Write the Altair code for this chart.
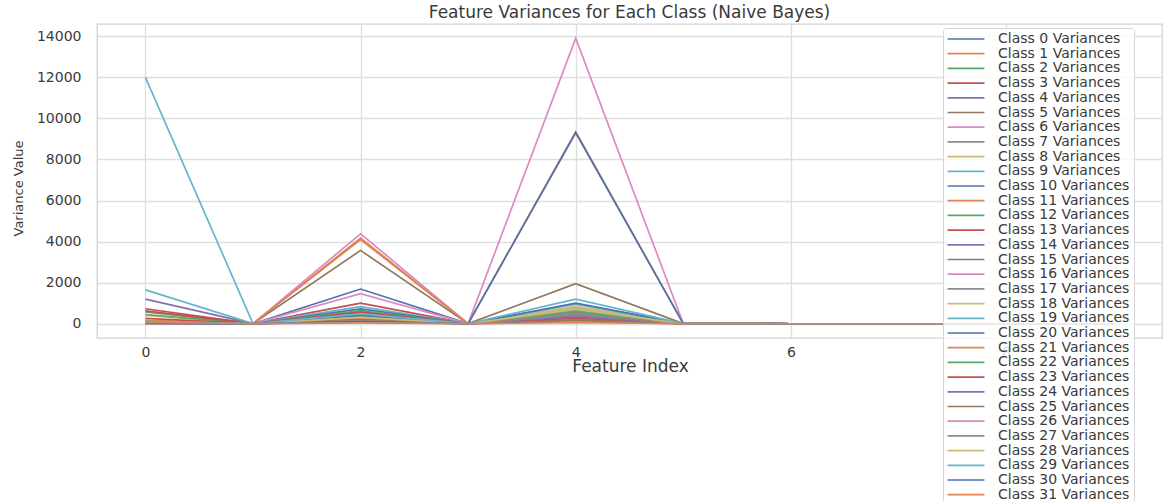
import altair as alt
import pandas as pd

# Per-feature variance of each class (index = class id 0..31)
feature_0 = [40, 160, 570, 730, 1200, 30, 20, 60, 400, 1650, 50, 80, 450, 260, 90, 70,
             25, 35, 110, 12000, 45, 15, 120, 630, 55, 20, 30, 40, 75, 100, 10, 60]
feature_1 = [3, 5, 2, 4, 6, 3, 2, 5, 4, 7, 3, 2, 5, 4, 3, 6,
             2, 3, 4, 8, 3, 2, 5, 4, 3, 2, 6, 3, 4, 5, 2, 3]
feature_2 = [1690, 4170, 600, 1000, 300, 3570, 4380, 220, 380, 830, 720, 4100, 520, 450, 150, 260,
             1460, 180, 340, 90, 410, 250, 640, 560, 120, 200, 60, 140, 310, 480, 100, 40]
feature_3 = [4, 6, 3, 5, 2, 7, 5, 3, 4, 2, 6, 5, 3, 4, 2, 5,
             3, 2, 4, 3, 5, 6, 3, 2, 4, 3, 8, 2, 3, 4, 6, 2]
feature_4 = [450, 150, 650, 300, 200, 500, 100, 550, 850, 750, 350, 250, 600, 400, 420, 1950,
             80, 500, 800, 950, 1000, 9350, 620, 280, 350, 180, 13900, 450, 700, 1200, 9300, 60]
feature_5 = [2, 1, 3, 2, 1, 2, 1, 2, 3, 2, 1, 2, 2, 1, 2, 3,
             1, 2, 2, 1, 2, 4, 2, 1, 2, 1, 5, 2, 2, 3, 4, 1]
feature_6 = [0, 0, 0, 0, 0, 0, 0, 0, 0, 0, 0, 0, 0, 0, 0, 0,
             0, 0, 0, 0, 0, 0, 0, 0, 0, 0, 0, 0, 0, 0, 0, 0]
feature_7 = [0, 0, 0, 0, 0, 0, 0, 0, 0, 0, 0, 0, 0, 0, 0, 0,
             0, 0, 0, 0, 0, 0, 0, 0, 0, 0, 0, 0, 0, 0, 0, 0]
feature_8 = [0, 0, 0, 0, 0, 0, 0, 0, 0, 0, 0, 0, 0, 0, 0, 0,
             0, 0, 0, 0, 0, 0, 0, 0, 0, 0, 0, 0, 0, 0, 0, 0]
feature_9 = [0, 0, 0, 0, 0, 0, 0, 0, 0, 0, 0, 0, 0, 0, 0, 0,
             0, 0, 0, 0, 0, 0, 0, 0, 0, 0, 0, 0, 0, 0, 0, 0]

features = [feature_0, feature_1, feature_2, feature_3, feature_4,
            feature_5, feature_6, feature_7, feature_8, feature_9]
class_names = [f"Class {c} Variances" for c in range(32)]

palette = ["#4C72B0", "#DD8452", "#55A868", "#C44E52", "#8172B3",
           "#937860", "#DA8BC3", "#8C8C8C", "#CCB974", "#64B5CD"]
colors = [palette[i % len(palette)] for i in range(len(class_names))]

rows = []
for c, name in enumerate(class_names):
    for f, values in enumerate(features):
        rows.append({"cls": name, "order": c, "feature": f, "variance": values[c]})
df = pd.DataFrame(rows)

FONT = "DejaVu Sans"
TEXT = "#3a3a3a"

# wide, flat legend glyph: a horizontal stroke spanning [-4, 4] in symbol units
LEGEND_GLYPH = "M-4,0H4"

chart = alt.Chart(df).mark_line(strokeWidth=1.7, clip=True).encode(
    x=alt.X("feature:Q",
            scale=alt.Scale(domain=[-0.45, 9.45], nice=False, zero=False),
            axis=alt.Axis(values=[0, 2, 4, 6, 8], format="d", title="Feature Index",
                          ticks=False, domain=False, labelPadding=7,
                          titleX=533, titleY=28, titleBaseline="middle")),
    y=alt.Y("variance:Q",
            scale=alt.Scale(domain=[-695, 14595], nice=False, zero=False),
            axis=alt.Axis(values=[0, 2000, 4000, 6000, 8000, 10000, 12000, 14000],
                          format="d", title="Variance Value", ticks=False, domain=False,
                          labelPadding=16, titleX=-79, titleY=164, titleAngle=270,
                          titleAlign="center", titleBaseline="middle")),
    color=alt.Color("cls:N",
                    scale=alt.Scale(domain=class_names, range=colors),
                    sort=class_names,
                    legend=alt.Legend(orient="none", legendX=846, legendY=4, title=None,
                                      symbolType=LEGEND_GLYPH, symbolSize=85,
                                      symbolStrokeWidth=1.7, symbolOffset=12,
                                      labelFont=FONT, labelFontSize=14, labelColor=TEXT,
                                      labelOffset=25, labelLimit=0, symbolLimit=40,
                                      padding=4, rowPadding=0.7,
                                      fillColor="rgba(255,255,255,0.8)",
                                      strokeColor="#d6d6d6", cornerRadius=3)),
    order=alt.Order("order:Q"),
    detail="cls:N",
).properties(
    width=1065,
    height=314,
    title=alt.TitleParams("Feature Variances for Each Class (Naive Bayes)",
                          font=FONT, fontSize=17, fontWeight="normal", color=TEXT,
                          anchor="middle", offset=2),
    autosize=alt.AutoSizeParams(type="none"),
    padding={"left": 97, "top": 24, "right": 3, "bottom": 163},
).configure_view(
    stroke="#d4d4d4", strokeWidth=1.3
).configure_axis(
    grid=True, gridColor="#dedede", gridWidth=1.3,
    labelFont=FONT, labelFontSize=14, labelColor=TEXT,
    titleFont=FONT, titleFontSize=17, titleFontWeight="normal", titleColor=TEXT,
).configure_axisY(
    titleFontSize=13
)

chart.save("out.html", embed_options={"renderer": "svg", "actions": False})
